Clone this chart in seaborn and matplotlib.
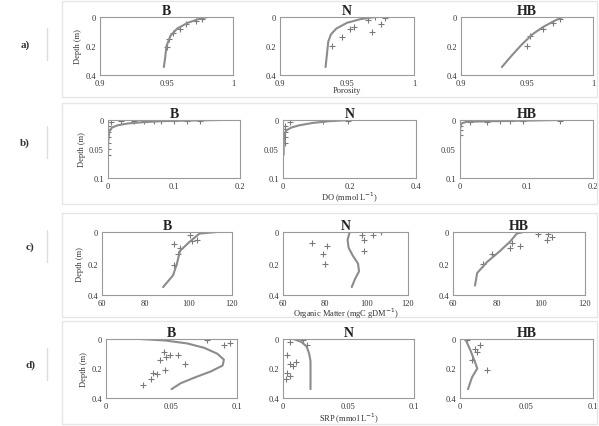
import matplotlib
matplotlib.use("Agg")
import matplotlib.pyplot as plt
import seaborn as sns
import pandas as pd

sns.set_theme(style="white")
plt.rcParams['font.family'] = ['Liberation Serif', 'DejaVu Serif']

# ---------------- data ----------------
# Row a: porosity
por_B_line_x = [0.948, 0.949, 0.950, 0.953, 0.958, 0.966, 0.974, 0.981]
por_B_line_d = [0.345, 0.28, 0.20, 0.13, 0.08, 0.04, 0.015, 0.0]
por_B_pts_x = [0.950, 0.952, 0.955, 0.960, 0.965, 0.972, 0.977]
por_B_pts_d = [0.21, 0.15, 0.11, 0.08, 0.05, 0.03, 0.015]

por_N_line_x = [0.934, 0.935, 0.936, 0.938, 0.942, 0.950, 0.960, 0.971]
por_N_line_d = [0.345, 0.26, 0.17, 0.12, 0.08, 0.04, 0.015, 0.0]
por_N_pts_x = [0.939, 0.946, 0.952, 0.955, 0.969, 0.975, 0.978, 0.966, 0.971]
por_N_pts_d = [0.20, 0.14, 0.08, 0.07, 0.10, 0.05, 0.01, 0.02, 0.0]

por_HB_line_x = [0.931, 0.938, 0.946, 0.954, 0.962, 0.970, 0.977]
por_HB_line_d = [0.345, 0.27, 0.19, 0.12, 0.07, 0.03, 0.0]
por_HB_pts_x = [0.950, 0.952, 0.962, 0.970, 0.975]
por_HB_pts_d = [0.20, 0.13, 0.08, 0.04, 0.015]

# Row b: dissolved oxygen
do_B_line_x = [0.17, 0.12, 0.08, 0.05, 0.03, 0.015, 0.006, 0.002, 0.0, 0.0]
do_B_line_d = [0.0, 0.001, 0.002, 0.004, 0.006, 0.009, 0.013, 0.02, 0.04, 0.06]
do_B_pts_x = [0.005, 0.02, 0.04, 0.055, 0.07, 0.08, 0.1, 0.12, 0.14, 0, 0, 0, 0, 0, 0, 0]
do_B_pts_d = [0.004, 0.002, 0.002, 0.001, 0.001, 0.001, 0.001, 0.001, 0.001,
              0.01, 0.015, 0.02, 0.03, 0.04, 0.05, 0.06]

do_N_line_x = [0.2, 0.14, 0.09, 0.05, 0.025, 0.01, 0.004, 0.002, 0.002]
do_N_line_d = [0.0, 0.002, 0.005, 0.009, 0.013, 0.018, 0.025, 0.04, 0.06]
do_N_pts_x = [0.02, 0.12, 0.195, 0.005, 0.005, 0.005, 0.005, 0.005]
do_N_pts_d = [0.003, 0.002, 0.001, 0.01, 0.015, 0.02, 0.03, 0.04]

do_HB_line_x = [0.15, 0.1, 0.05, 0.01, 0.002, 0.0, 0.0]
do_HB_line_d = [0.0, 0.001, 0.002, 0.003, 0.006, 0.015, 0.03]
do_HB_pts_x = [0.015, 0.04, 0.06, 0.075, 0.095, 0.15, 0, 0, 0]
do_HB_pts_d = [0.003, 0.003, 0.002, 0.002, 0.002, 0.001, 0.01, 0.018, 0.025]

# Row c: organic matter
om_B_line_x = [88.2, 92.8, 94.6, 96.0, 100.6, 105.0, 113.0]
om_B_line_d = [0.35, 0.275, 0.20, 0.12, 0.06, 0.01, 0.0]
om_B_pts_x = [100.6, 101.5, 104.0, 93.0, 96.0, 95.0, 93.0]
om_B_pts_d = [0.02, 0.06, 0.05, 0.075, 0.10, 0.14, 0.21]

om_N_line_x = [92, 91, 91.5, 93.5, 96, 96.5, 94.5, 93]
om_N_line_d = [0.0, 0.05, 0.1, 0.15, 0.2, 0.25, 0.3, 0.35]
om_N_pts_x = [74, 81, 79, 80, 98, 103, 107, 99, 99]
om_N_pts_d = [0.07, 0.09, 0.14, 0.2, 0.02, 0.02, 0.0, 0.05, 0.12]

om_HB_line_x = [70, 71, 75.5, 81, 86, 89, 92]
om_HB_line_d = [0.34, 0.26, 0.19, 0.125, 0.06, 0.01, 0.0]
om_HB_pts_x = [73.6, 77.7, 86.8, 86, 90.5, 98.6, 103, 102.5, 105]
om_HB_pts_d = [0.2, 0.14, 0.07, 0.1, 0.09, 0.01, 0.01, 0.05, 0.03]

# Row d: SRP
srp_B_line_x = [0.026, 0.045, 0.062, 0.075, 0.085, 0.09, 0.089, 0.08, 0.068, 0.057, 0.05]
srp_B_line_d = [0.0, 0.01, 0.03, 0.06, 0.1, 0.14, 0.18, 0.22, 0.26, 0.3, 0.34]
srp_B_pts_x = [0.077, 0.09, 0.095, 0.044, 0.049, 0.055, 0.041, 0.046, 0.06, 0.045, 0.036, 0.034, 0.028, 0.039]
srp_B_pts_d = [0.01, 0.04, 0.03, 0.09, 0.11, 0.11, 0.14, 0.12, 0.17, 0.21, 0.23, 0.27, 0.31, 0.24]

srp_N_line_x = [0.008, 0.014, 0.018, 0.02, 0.021, 0.021, 0.021, 0.021, 0.021]
srp_N_line_d = [0.0, 0.02, 0.05, 0.1, 0.15, 0.2, 0.25, 0.3, 0.34]
srp_N_pts_x = [0.003, 0.005, 0.008, 0.003, 0.002, 0.005, 0.01, 0.018, 0.015, 0.005]
srp_N_pts_d = [0.11, 0.17, 0.18, 0.23, 0.27, 0.25, 0.155, 0.04, 0.01, 0.02]

srp_HB_line_x = [0.004, 0.008, 0.011, 0.013, 0.011, 0.009, 0.006]
srp_HB_line_d = [0.0, 0.08, 0.15, 0.2, 0.23, 0.26, 0.34]
srp_HB_pts_x = [0.015, 0.011, 0.013, 0.02, 0.005, 0.009]
srp_HB_pts_d = [0.04, 0.07, 0.09, 0.21, 0.005, 0.14]

titles = ["B", "N", "HB"]
row_labels = ["a)", "b)", "c)", "d)"]
x_labels = ["Porosity", "DO (mmol L$^{-1}$)", "Organic Matter (mgC gDM$^{-1}$)", "SRP (mmol L$^{-1}$)"]

rows = [
    [(por_B_line_x, por_B_line_d, por_B_pts_x, por_B_pts_d),
     (por_N_line_x, por_N_line_d, por_N_pts_x, por_N_pts_d),
     (por_HB_line_x, por_HB_line_d, por_HB_pts_x, por_HB_pts_d)],
    [(do_B_line_x, do_B_line_d, do_B_pts_x, do_B_pts_d),
     (do_N_line_x, do_N_line_d, do_N_pts_x, do_N_pts_d),
     (do_HB_line_x, do_HB_line_d, do_HB_pts_x, do_HB_pts_d)],
    [(om_B_line_x, om_B_line_d, om_B_pts_x, om_B_pts_d),
     (om_N_line_x, om_N_line_d, om_N_pts_x, om_N_pts_d),
     (om_HB_line_x, om_HB_line_d, om_HB_pts_x, om_HB_pts_d)],
    [(srp_B_line_x, srp_B_line_d, srp_B_pts_x, srp_B_pts_d),
     (srp_N_line_x, srp_N_line_d, srp_N_pts_x, srp_N_pts_d),
     (srp_HB_line_x, srp_HB_line_d, srp_HB_pts_x, srp_HB_pts_d)],
]

# layout in pixels (x0, x1) per panel and (y0, y1) per row
W, H = 599, 427
row_y = [(18, 76), (121, 179), (233, 296), (340, 399)]
panel_x = [
    [(100, 233), (280, 414), (461, 593)],
    [(108, 240), (283, 416), (460, 593)],
    [(102, 232), (283, 408), (453, 585)],
    [(106, 237), (283, 414), (460, 593)],
]
xlims = [
    [(0.9, 1.0)] * 3,
    [(0, 0.2), (0, 0.4), (0, 0.2)],
    [(60, 120)] * 3,
    [(0, 0.1)] * 3,
]
xticks = [
    [[0.9, 0.95, 1]] * 3,
    [[0, 0.1, 0.2], [0, 0.2, 0.4], [0, 0.1, 0.2]],
    [[60, 80, 100, 120]] * 3,
    [[0, 0.05, 0.1]] * 3,
]
ylims = [0.4, 0.1, 0.4, 0.4]
yticks = [[0, 0.2, 0.4], [0, 0.05, 0.1], [0, 0.2, 0.4], [0, 0.2, 0.4]]
label_y = [91, 198, 314, 419]
row_label_pos = [(25, 45), (25, 143), (30, 247), (30, 365)]

fig = plt.figure(figsize=(W / 100, H / 100), dpi=100)

# faint row frames
for yb in [(2, 98), (104, 205), (214, 318), (322, 425)]:
    fig.add_artist(plt.Rectangle((62 / W, 1 - yb[1] / H), (W - 64) / W, (yb[1] - yb[0]) / H,
                                 fill=False, ec="#e6e6e6", lw=1.0, transform=fig.transFigure))

line_color = "#8c8c8c"
pt_color = "#7a7a7a"

def fmt(v):
    return "%g" % v

for r in range(4):
    y0, y1 = row_y[r]
    for c in range(3):
        x0, x1 = panel_x[r][c]
        ax = fig.add_axes([x0 / W, 1 - y1 / H, (x1 - x0) / W, (y1 - y0) / H])
        lx, ld, px, pd_ = rows[r][c]
        df_l = pd.DataFrame({"x": lx, "depth": ld})
        df_p = pd.DataFrame({"x": px, "depth": pd_})
        sns.lineplot(data=df_l, x="x", y="depth", sort=False, estimator=None,
                     color=line_color, lw=1.5, ax=ax)
        sns.scatterplot(data=df_p, x="x", y="depth", marker="+", s=14,
                        color=pt_color, linewidth=0.8, ax=ax)
        ax.set_xlim(*xlims[r][c])
        ax.set_ylim(ylims[r], 0)
        ax.set_xticks(xticks[r][c])
        ax.set_xticklabels([fmt(v) for v in xticks[r][c]])
        ax.set_yticks(yticks[r])
        ax.set_yticklabels([fmt(v) for v in yticks[r]])
        ax.tick_params(labelsize=6, length=2, width=0.6, pad=1, colors="#555555",
                       labelcolor="#333333")
        for sp in ax.spines.values():
            sp.set_color("#9a9a9a")
            sp.set_linewidth(0.8)
        ax.set_xlabel("")
        ax.set_ylabel("")
        ax.set_title(titles[c], fontsize=10, fontweight="bold", pad=2, color="#222222")
        if c == 0:
            ax.set_ylabel("Depth (m)", fontsize=6, labelpad=2, color="#333333")
    # row x label
    xs = panel_x[r][1]
    fig.text(((xs[0] + xs[1]) / 2) / W, 1 - label_y[r] / H, x_labels[r],
             ha="center", va="center", fontsize=6, color="#333333")
    lx_, ly_ = row_label_pos[r]
    fig.text(lx_ / W, 1 - ly_ / H, row_labels[r], ha="center", va="center",
             fontsize=8, fontweight="bold", color="#333333")
    fig.add_artist(plt.Line2D([47 / W, 47 / W], [1 - (ly_ + 16) / H, 1 - (ly_ - 16) / H],
                              color="#dddddd", lw=1.0, transform=fig.transFigure))

fig.savefig("out.png", dpi=100)
